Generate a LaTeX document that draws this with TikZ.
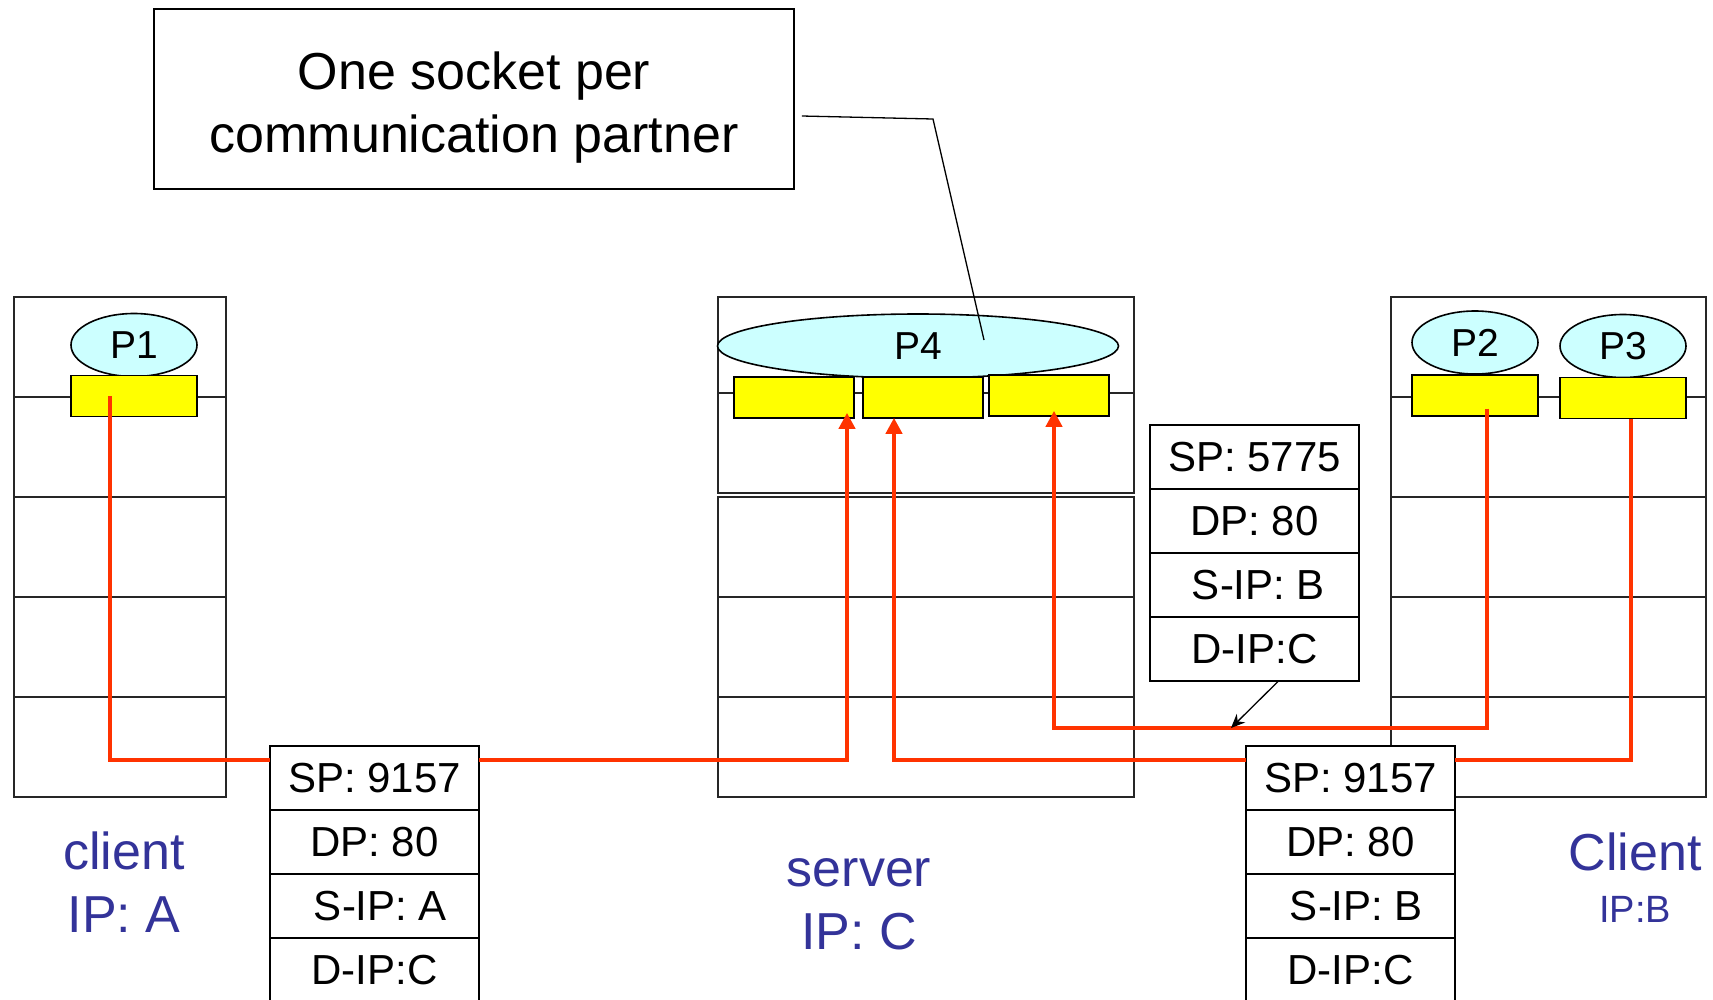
\documentclass[tikz,border=0pt]{standalone}
\usepackage{fontspec}
\setmainfont{Liberation Sans}
\usetikzlibrary{arrows.meta,positioning,shapes.geometric}
\definecolor{lblue}{HTML}{333399}
\definecolor{wire}{HTML}{FF3300}
\definecolor{pcyan}{HTML}{CCFFFF}
\definecolor{sockyel}{HTML}{FFFF00}
\tikzset{
  frame/.style={draw=black!85,line width=1.6pt},
  sock/.style={draw,line width=1.6pt,fill=sockyel,minimum width=126pt,minimum height=41pt,inner sep=0pt},
  ssock/.style={sock,minimum width=120pt},
  proc/.style={ellipse,draw,line width=1.6pt,fill=pcyan,minimum width=126pt,minimum height=63pt,inner sep=0pt,font=\fontsize{39}{46}\selectfont},
  hdr/.style={draw,line width=1.6pt,fill=white,minimum width=209pt,minimum height=64pt,inner sep=0pt,outer sep=0pt,font=\fontsize{42}{50}\selectfont},
  lbl/.style={align=center,text=lblue,font=\fontsize{52}{63}\selectfont},
  flow/.style={draw=wire,line width=4pt},
  ar/.style={flow,-{Triangle[length=16pt,width=16pt]}},
  ptr/.style={line width=1.3pt,-{Stealth[length=14pt,width=12pt]}},
}

\begin{document}
\begin{tikzpicture}[x=1pt,y=-1pt]
  \useasboundingbox (0,0) rectangle (1713,999);

  % ---- host stacks
  \draw[frame] (14,297) rectangle (226,797);
  \foreach \y in {397,497,597,697} \draw[frame] (14,\y) -- (226,\y);
  \draw[frame] (718,297) rectangle (1134,493);
  \draw[frame] (718,393) -- (1134,393);
  \draw[frame] (718,497) rectangle (1134,797);
  \foreach \y in {597,697} \draw[frame] (718,\y) -- (1134,\y);
  \draw[frame] (1391,297) rectangle (1706,797);
  \foreach \y in {397,497,597,697} \draw[frame] (1391,\y) -- (1706,\y);

  % ---- processes and sockets
  \node[proc] (p1) at (134,345) {P1};
  \node[sock] (so1) at (134,396) {};
  \node[proc,minimum width=401pt,minimum height=64pt] (p4) at (918,346) {P4};
  \node[ssock] (ss1) at (794,397.5) {};
  \node[ssock] (ss2) at (923,397.5) {};
  \node[ssock] (ss3) at (1049,395.5) {};
  \node[proc] (p2) at (1475,342.5) {P2};
  \node[sock] (sq2) at (1475,395.5) {};
  \node[proc] (p3) at (1623,346) {P3};
  \node[sock] (sq3) at (1623,398) {};

  % ---- red data paths
  \coordinate (turn) at (1487,728);
  \draw[ar] ([xshift=12pt,yshift=-13pt]sq2.center) -- (turn) -| ([xshift=5pt,yshift=6pt]ss3.south);

  % ---- segments
  \node[hdr] (pA1) at (374.5,778) {SP: 9157};
  \node[hdr,below=0pt of pA1] (pA2) {DP: 80};
  \node[hdr,below=0pt of pA2] (pA3) {\hspace*{12pt}S-IP: A};
  \node[hdr,below=0pt of pA3] (pA4) {D-IP:C};
  \draw[flow] ([xshift=-24pt]so1.center) |- ([yshift=18pt]pA1.west);
  \draw[ar] ([yshift=18pt]pA1.east) -| ([xshift=53pt,yshift=6pt]ss1.south);

  \node[hdr] (pB1) at (1350.5,778) {SP: 9157};
  \node[hdr,below=0pt of pB1] (pB2) {DP: 80};
  \node[hdr,below=0pt of pB2] (pB3) {\hspace*{12pt}S-IP: B};
  \node[hdr,below=0pt of pB3] (pB4) {D-IP:C};
  \draw[flow] ([xshift=8pt]sq3.south) |- ([yshift=18pt]pB1.east);
  \draw[ar] ([yshift=18pt]pB1.west) -| ([xshift=-29pt,yshift=1pt]ss2.south);

  \node[hdr] (pC1) at (1254.5,457) {SP: 5775};
  \node[hdr,below=0pt of pC1] (pC2) {DP: 80};
  \node[hdr,below=0pt of pC2] (pC3) {\hspace*{8pt}S-IP: B};
  \node[hdr,below=0pt of pC3] (pC4) {D-IP:C};
  \coordinate (hit) at (1231,728);
  \draw[ptr] ([xshift=24pt]pC4.south) -- (hit);

  % ---- callout
  \node[draw,line width=1.6pt,minimum width=640pt,minimum height=180pt] (note) at (474,99) {};
  \node[align=center,font=\fontsize{52}{63}\selectfont] (notetxt) at ([yshift=-9pt]note.center)
       {One socket per\\communication partner};
  \coordinate (bendn) at (933,119);
  \coordinate (inp4) at (984,340);
  \draw[line width=1.3pt] ([xshift=7pt,yshift=-17pt]note.east) -- (bendn) -- (inp4);

  % ---- host labels
  \node[lbl] (cliA) at (124,882) {client\\IP: A};
  \node[lbl] (srvC) at (859,904) {server\\IP: C};
  \node[lbl] (cliB) at (1635,852) {Client};
  \node[lbl,font=\fontsize{38}{46}\selectfont] (ipB) at (1635,909) {IP:B};
\end{tikzpicture}
\end{document}
